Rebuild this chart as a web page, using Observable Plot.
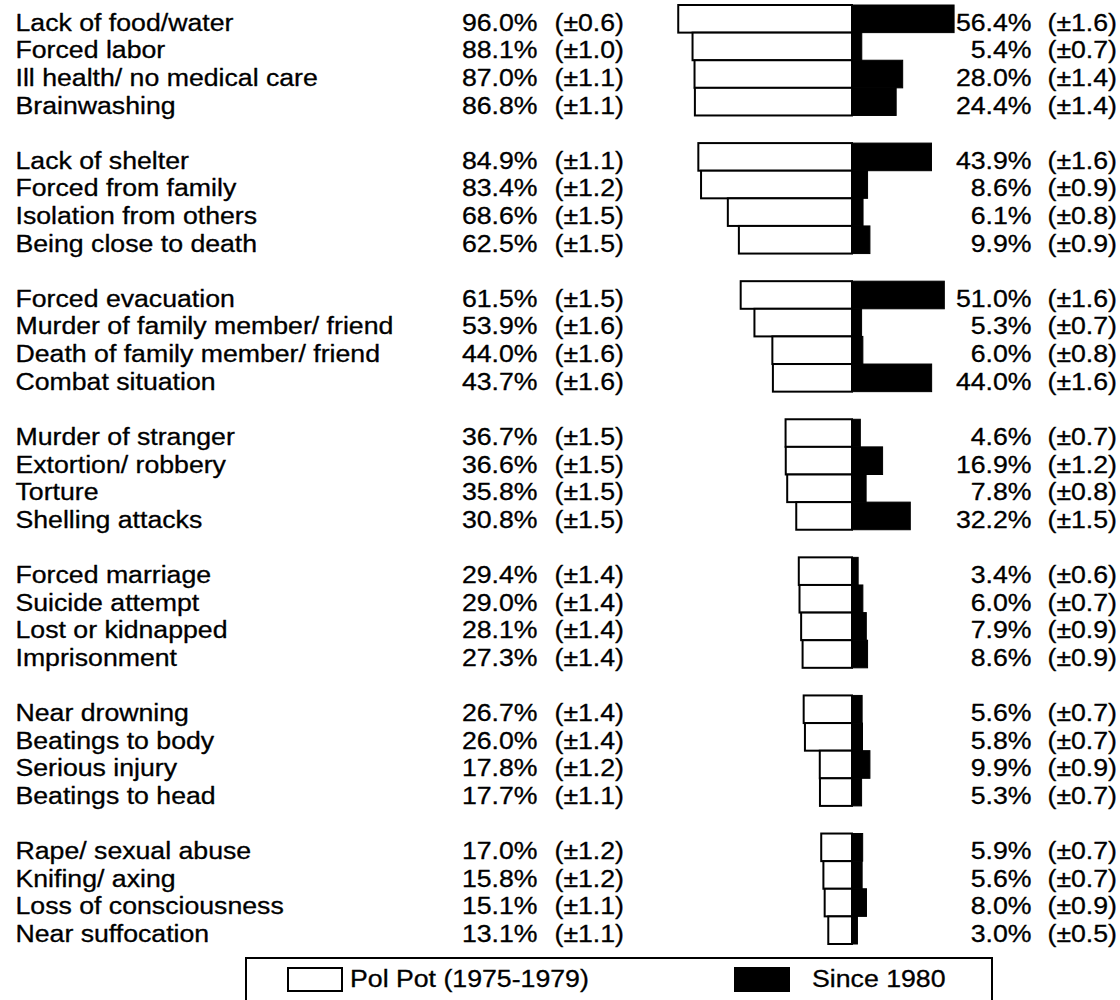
<!DOCTYPE html>
<html>
<head>
<meta charset="utf-8">
<script src="https://cdn.jsdelivr.net/npm/d3@7"></script>
<script src="https://cdn.jsdelivr.net/npm/@observablehq/plot@0.6"></script>
<style>
  html, body { margin: 0; padding: 0; background: #fff; overflow: hidden; }
  #wrap { position: relative; width: 1120px; height: 1000px; }
  #chart svg { display: block; }
  #legend { position: absolute; left: 245px; top: 957px; width: 748px; height: 60px;
            border: 2px solid #000; border-bottom: none; box-sizing: border-box;
            font-family: "Liberation Sans", Arial, sans-serif; font-size: 23px; color: #000; }
  .sw { position: absolute; top: 8px; width: 56px; height: 25px; box-sizing: border-box; border: 2px solid #000; }
  .lt { position: absolute; top: 6px; line-height: 28px; transform: scaleX(1.16); transform-origin: left center;
        white-space: nowrap; -webkit-text-stroke: 0.3px #000; }
</style>
</head>
<body>
<div id="wrap">
  <div id="chart"></div>
  <div id="legend">
    <div class="sw" style="left:40px;background:#fff"></div>
    <div class="lt" style="left:103px">Pol Pot (1975-1979)</div>
    <div class="sw" style="left:487px;background:#000"></div>
    <div class="lt" style="left:565px">Since 1980</div>
  </div>
</div>
<script>
const labels = [
  "Lack of food/water", "Forced labor", "Ill health/ no medical care", "Brainwashing",
  "Lack of shelter", "Forced from family", "Isolation from others", "Being close to death",
  "Forced evacuation", "Murder of family member/ friend", "Death of family member/ friend", "Combat situation",
  "Murder of stranger", "Extortion/ robbery", "Torture", "Shelling attacks",
  "Forced marriage", "Suicide attempt", "Lost or kidnapped", "Imprisonment",
  "Near drowning", "Beatings to body", "Serious injury", "Beatings to head",
  "Rape/ sexual abuse", "Knifing/ axing", "Loss of consciousness", "Near suffocation"
];
const polPot = [96.0, 88.1, 87.0, 86.8, 84.9, 83.4, 68.6, 62.5, 61.5, 53.9, 44.0, 43.7, 36.7, 36.6,
  35.8, 30.8, 29.4, 29.0, 28.1, 27.3, 26.7, 26.0, 17.8, 17.7, 17.0, 15.8, 15.1, 13.1];
const polPotCI = [0.6, 1.0, 1.1, 1.1, 1.1, 1.2, 1.5, 1.5, 1.5, 1.6, 1.6, 1.6, 1.5, 1.5,
  1.5, 1.5, 1.4, 1.4, 1.4, 1.4, 1.4, 1.4, 1.2, 1.1, 1.2, 1.2, 1.1, 1.1];
const since1980 = [56.4, 5.4, 28.0, 24.4, 43.9, 8.6, 6.1, 9.9, 51.0, 5.3, 6.0, 44.0, 4.6, 16.9,
  7.8, 32.2, 3.4, 6.0, 7.9, 8.6, 5.6, 5.8, 9.9, 5.3, 5.9, 5.6, 8.0, 3.0];
const since1980CI = [1.6, 0.7, 1.4, 1.4, 1.6, 0.9, 0.8, 0.9, 1.6, 0.7, 0.8, 1.6, 0.7, 1.2,
  0.8, 1.5, 0.6, 0.7, 0.9, 0.9, 0.7, 0.7, 0.9, 0.7, 0.7, 0.7, 0.9, 0.5];
const groupSize = 4;

const rows = labels.map((label, i) => ({
  label,
  slot: Math.floor(i / groupSize) * (groupSize + 1) + (i % groupSize),
  pp: polPot[i], ppCI: polPotCI[i], s: since1980[i], sCI: since1980CI[i]
}));

const W = 1120, H = 950, center = 852, pxPer = 1.81;
const font = "Liberation Sans, Arial, sans-serif";
const txt = {fontSize: 23, fontFamily: font, fill: "#000", stroke: "#000", strokeWidth: 0.3,
  lineAnchor: "middle", dy: 4, y: "slot"};

const svg = Plot.plot({
  width: W, height: H,
  marginLeft: 0, marginRight: 0, marginTop: 5, marginBottom: 6,
  x: {domain: [-center / pxPer, (W - center) / pxPer], range: [0, W], axis: null},
  y: {domain: [-0.5, 33.5], range: [5, 944], axis: null},
  marks: [
    Plot.rect(rows, {x1: 0, x2: "s", y1: d => d.slot - 0.5, y2: d => d.slot + 0.5,
      fill: "#000", stroke: "#000", strokeWidth: 1}),
    Plot.rect(rows, {x1: d => -d.pp, x2: 0, y1: d => d.slot - 0.5, y2: d => d.slot + 0.5,
      fill: "#fff", stroke: "#000", strokeWidth: 2}),
    Plot.text(rows, {...txt, text: "label", frameAnchor: "left", textAnchor: "start", dx: 15}),
    Plot.text(rows, {...txt, text: d => d.pp.toFixed(1) + "%", frameAnchor: "left", textAnchor: "end", dx: 537}),
    Plot.text(rows, {...txt, text: d => "(±" + d.ppCI.toFixed(1) + ")", frameAnchor: "left", textAnchor: "start", dx: 554}),
    Plot.text(rows, {...txt, text: d => d.s.toFixed(1) + "%", frameAnchor: "left", textAnchor: "end", dx: 1031}),
    Plot.text(rows, {...txt, text: d => "(±" + d.sCI.toFixed(1) + ")", frameAnchor: "left", textAnchor: "start", dx: 1047})
  ]
});

// horizontal stretch of glyphs to match the reference typeface width
svg.querySelectorAll("text").forEach(t => {
  const xv = parseFloat(t.getAttribute("x"));
  const x = Number.isFinite(xv) ? xv : 0;
  const tr = t.getAttribute("transform") || "";
  t.setAttribute("transform", `${tr} translate(${x},0) scale(1.16,1) translate(${-x},0)`);
});

document.getElementById("chart").appendChild(svg);
</script>
</body>
</html>
